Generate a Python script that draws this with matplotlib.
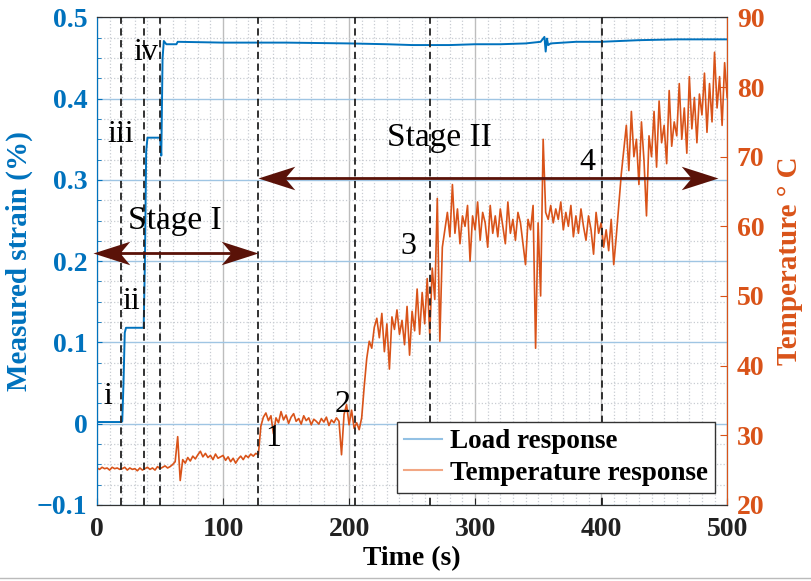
import matplotlib
matplotlib.use("Agg")
import matplotlib.pyplot as plt
from matplotlib.lines import Line2D
from matplotlib.path import Path
from matplotlib.ticker import MultipleLocator
import numpy as np

plt.rcParams['font.family'] = ['Liberation Serif', 'DejaVu Serif']

BLUE = '#0072BD'
ORANGE = '#D95319'
MAROON = '#5a1208'

# load response (strain %), breakpoints
t_load = [0, 19, 20, 21, 22, 23, 36, 37, 38, 39, 40, 49, 50, 51, 52, 53, 55, 60,
          63, 64, 100, 150, 200, 230, 250, 280, 300, 320, 340, 352, 355, 356,
          357, 358, 360, 380, 400, 430, 460, 500]
load = [0.002, 0.002, 0.003, 0.05, 0.112, 0.118, 0.118, 0.118, 0.20, 0.335,
        0.352, 0.352, 0.352, 0.33, 0.45, 0.471, 0.467, 0.467, 0.467, 0.470,
        0.469, 0.469, 0.468, 0.467, 0.466, 0.466, 0.467, 0.467, 0.468, 0.470,
        0.476, 0.458, 0.474, 0.466, 0.468, 0.470, 0.470, 0.472, 0.473, 0.473]

# temperature response (deg C), one reading every 2 s from 0 to 500 s
temp = [
    25.3, 25.1, 25.4, 25.2, 25.3, 25.0, 25.4, 25.2, 25.3, 25.1,
    25.2, 25.4, 25.0, 25.3, 25.1, 25.2, 24.9, 25.3, 25.0, 25.2,
    25.4, 25.1, 25.3, 25.0, 25.5, 25.2, 25.4, 25.6, 25.3, 25.5,
    25.8, 26.2, 29.8, 23.5, 26.5, 26.0, 26.8, 26.3, 27.0, 26.6,
    27.2, 27.7, 26.9, 27.4, 26.8, 27.1, 26.5, 27.3, 26.7, 26.9,
    27.1, 26.4, 26.9, 26.2, 26.7, 26.0, 26.6, 27.0, 26.5, 27.1,
    26.8, 27.3, 27.0, 27.4, 27.2, 31.3, 32.6, 33.2, 32.1, 32.8,
    30.2, 32.5, 31.8, 33.4, 32.2, 32.9, 31.7, 32.6, 33.1, 32.0,
    32.4, 31.6, 32.8, 32.1, 32.5, 31.5, 32.3, 32.0, 31.6, 32.4,
    31.9, 32.6, 31.4, 32.2, 31.8, 32.5, 32.0, 27.2, 33.0, 34.4,
    31.5, 33.6, 31.0, 31.8, 30.8, 32.5, 37.0, 41.0, 43.5, 42.5,
    45.5, 46.8, 44.0, 47.5, 42.0, 46.0, 39.5, 47.0, 45.2, 48.0,
    44.5, 46.5, 43.0, 48.5, 41.5, 47.8, 45.0, 51.0, 44.5, 50.5,
    46.0, 52.5, 44.5, 54.0, 49.5, 64.0, 43.5, 57.0, 59.5, 62.0,
    58.5, 66.0, 59.0, 62.5, 57.5, 61.5, 60.0, 63.0, 55.0, 61.5,
    59.5, 63.5, 58.0, 62.0, 60.5, 57.0, 63.0, 59.0, 61.5, 58.5,
    62.5, 60.0, 57.5, 63.5, 59.0, 61.0, 58.0, 62.0, 60.5, 57.5,
    54.5, 61.0, 59.5, 63.0, 42.5, 60.5, 50.0, 72.5, 62.0, 61.0,
    63.0, 60.5, 62.5, 61.0, 63.5, 59.5, 62.0, 60.0, 63.0, 58.5,
    61.5, 59.0, 62.5, 60.0, 58.0, 61.5, 59.5, 56.0, 62.0, 59.0,
    60.5, 57.0, 59.5, 56.5, 61.0, 54.5, 58.5, 63.0, 67.5, 71.0,
    74.5, 68.0, 76.5, 70.0, 72.5, 66.0, 75.0, 69.5, 61.5, 73.0,
    70.0, 76.5, 68.5, 78.0, 72.0, 74.5, 69.0, 79.5, 71.5, 75.0,
    73.0, 80.5, 72.5, 77.0, 70.5, 81.5, 74.0, 78.5, 72.0, 79.0,
    76.0, 82.0, 73.5, 80.5, 75.0, 85.0, 77.0, 81.5, 74.5, 83.5,
    78.5,
]
t_temp = np.arange(len(temp)) * 2

event_times = [19, 37, 50, 128, 205, 264, 401]
labels = [('i', 8.7, 0.033), ('ii', 27, 0.150), ('iii', 19, 0.356), ('iv', 39, 0.457),
          ('1', 140, -0.018), ('2', 195, 0.024), ('3', 247, 0.218), ('4', 389, 0.322)]

fig = plt.figure(figsize=(8.12, 5.81), dpi=100)
ax = fig.add_axes([0.1195, 0.131, 0.776, 0.839])
ax2 = ax.twinx()

ax.plot(t_load, load, color=BLUE, lw=1.4, zorder=3)
ax2.plot(t_temp, temp, color=ORANGE, lw=1.2, zorder=2)

for t in event_times:
    ax2.axvline(t, color='#222222', ls=(0, (4, 2.5)), lw=1.3, zorder=4)

ax.set_xlim(0, 500)
ax.set_ylim(-0.1, 0.5)
ax2.set_ylim(20, 90)
ax.xaxis.set_major_locator(MultipleLocator(100))
ax.xaxis.set_minor_locator(MultipleLocator(10))
ax.yaxis.set_minor_locator(MultipleLocator(0.025))
ax2.yaxis.set_major_locator(MultipleLocator(10))
ax.set_yticks(np.arange(-0.1, 0.51, 0.1))
ax.set_yticklabels(['\u22120.1', '0', '0.1', '0.2', '0.3', '0.4', '0.5'])

# grid: blue horizontal, grey vertical, dotted minor
ax.grid(axis='y', which='major', color='#9fc5e3', lw=1.0)
ax.grid(axis='x', which='major', color='#bdbdbd', lw=1.0)
ax.grid(which='minor', color='#c8ccd2', ls=':', lw=0.9)
ax.set_axisbelow(True)

ax.tick_params(axis='x', direction='in', labelsize=20, colors='#222222', length=5,
               top=False, pad=9)
ax.tick_params(axis='x', which='minor', length=0)
ax.tick_params(axis='y', which='both', direction='in', colors=BLUE, labelsize=20, pad=7)
ax.tick_params(axis='y', which='minor', length=3)
ax2.tick_params(axis='y', direction='in', colors=ORANGE, labelsize=20, length=5, pad=7)
for lab in ax.get_xticklabels() + ax.get_yticklabels() + ax2.get_yticklabels():
    lab.set_fontweight('bold')

ax.spines['left'].set_color(BLUE)
ax2.spines['left'].set_color(BLUE)
ax2.spines['right'].set_color(ORANGE)
for a in (ax, ax2):
    a.spines['top'].set_color('#333333')
    a.spines['bottom'].set_color('#333333')

ax.set_xlabel('Time (s)', fontsize=20, fontweight='bold', labelpad=3)
ax.set_ylabel('Measured strain (%)', fontsize=21, fontweight='bold', color=BLUE, labelpad=3)
ax2.set_ylabel('Temperature ° C', fontsize=21, fontweight='bold', color=ORANGE, labelpad=8)

# stage arrows: shaft plus barbed heads (tip of the marker sits on the point)
head_r = Path([(0, 0), (-1.0, 0.32), (-0.73, 0), (-1.0, -0.32), (0, 0)],
              [Path.MOVETO, Path.LINETO, Path.LINETO, Path.LINETO, Path.CLOSEPOLY])
head_l = Path([(0, 0), (1.0, 0.32), (0.73, 0), (1.0, -0.32), (0, 0)],
              [Path.MOVETO, Path.LINETO, Path.LINETO, Path.LINETO, Path.CLOSEPOLY])
stages = [(-3, 128, 0.21), (128, 493, 0.302)]
for x0, x1, y in stages:
    ax2.plot([x0 + 8, x1 - 8], [y, y], color=MAROON, lw=2, transform=ax.transData,
             zorder=6, clip_on=False)
    ax2.plot([x0], [y], marker=head_l, ms=53, color=MAROON, mec='none',
             transform=ax.transData, zorder=6, clip_on=False)
    ax2.plot([x1], [y], marker=head_r, ms=53, color=MAROON, mec='none',
             transform=ax.transData, zorder=6, clip_on=False)

ax2.text(62, 0.25, 'Stage I', transform=ax.transData, fontsize=24,
         ha='center', va='center', zorder=7)
ax2.text(272, 0.352, 'Stage II', transform=ax.transData, fontsize=24,
         ha='center', va='center', zorder=7)
for txt, x, y in labels:
    ax2.text(x, y, txt, transform=ax.transData, fontsize=23,
             ha='center', va='center', zorder=7)

handles = [Line2D([], [], color='#93c1e4', lw=1.5),
           Line2D([], [], color='#f2a784', lw=1.5)]
leg = ax2.legend(handles, ['Load response', 'Temperature response'], loc='lower right',
                 prop={'size': 19.5, 'weight': 'bold'}, fancybox=False,
                 edgecolor='#333333', framealpha=1, borderaxespad=0.45,
                 handlelength=1.4, handletextpad=0.3, labelspacing=0.25,
                 borderpad=0.25)
leg.get_frame().set_linewidth(1.0)
leg.set_zorder(10)

fig.add_artist(Line2D([0, 1], [0.005, 0.005], color='#bbbbbb', lw=1))

fig.savefig('out.png', dpi=100)
